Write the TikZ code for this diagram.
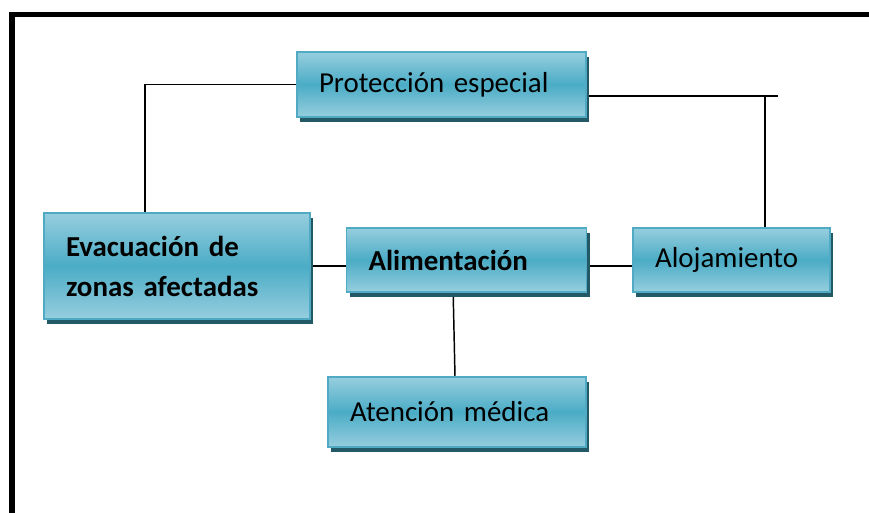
\documentclass[tikz,border=0pt]{standalone}
\usepackage{fontspec}
\setmainfont{Carlito}
\usetikzlibrary{shadows,backgrounds}
\definecolor{boxtop}{RGB}{150,206,222}
\definecolor{boxmid}{RGB}{75,172,198}
\definecolor{boxline}{RGB}{80,170,196}
\definecolor{boxshade}{RGB}{35,89,103}
\tikzset{
  blk/.style={draw=boxline, line width=1.2pt, top color=boxtop, bottom color=boxtop, middle color=boxmid,
    drop shadow={shadow xshift=2.6pt, shadow yshift=-3.8pt, fill=boxshade, opacity=1},
    inner xsep=16.5pt, inner ysep=0pt, text width=#1, align=left,
    font=\fontsize{21.7}{30}\selectfont},
  bold/.style={font=\fontsize{21.7}{30}\selectfont\bfseries},
  link/.style={draw=black, line width=1.1pt},
}
\begin{document}
\begin{tikzpicture}[x=0.75pt,y=0.75pt,yscale=-1,xscale=1]
\useasboundingbox (0,0) rectangle (869,513);
% outer frame, cut by the page at right and bottom
\draw [line width=4.3pt] (869,14.5) -- (12,14.5) -- (12,513);

% Boxes
\node [blk=183.75pt, minimum height=48.75pt] (prot) at (441.5,84.5) {Protección especial};
\node [blk=166.5pt, minimum height=79.5pt, bold] (evac) at (177,266) {Evacuación de\\zonas afectadas};
\node [blk=147pt, minimum height=48pt, bold] (alim) at (466.5,260) {Alimentación};
\node [blk=114.75pt, minimum height=48pt] (aloj) at (731.5,260) {Alojamiento};
\node [blk=160.5pt, minimum height=52.5pt] (aten) at (457,412) {Atención médica};

% Links
\begin{scope}[on background layer]
\draw [link] ([xshift=-24pt]evac.north) |- (prot.west);
\coordinate (pk) at (765,96);
\coordinate (tail) at (778,96);
\draw [link] (prot.east |- tail) -- (tail);
\draw [link] (pk) -- (pk |- aloj.north);
\draw [link] (evac.east) -- (evac.east -| alim.west);
\draw [link] (alim.east |- evac.east) -- (evac.east -| aloj.west);
\draw [link] ([xshift=-10pt]alim.south) -- ([xshift=-1.5pt]aten.north);
\end{scope}

\end{tikzpicture}
\end{document}
